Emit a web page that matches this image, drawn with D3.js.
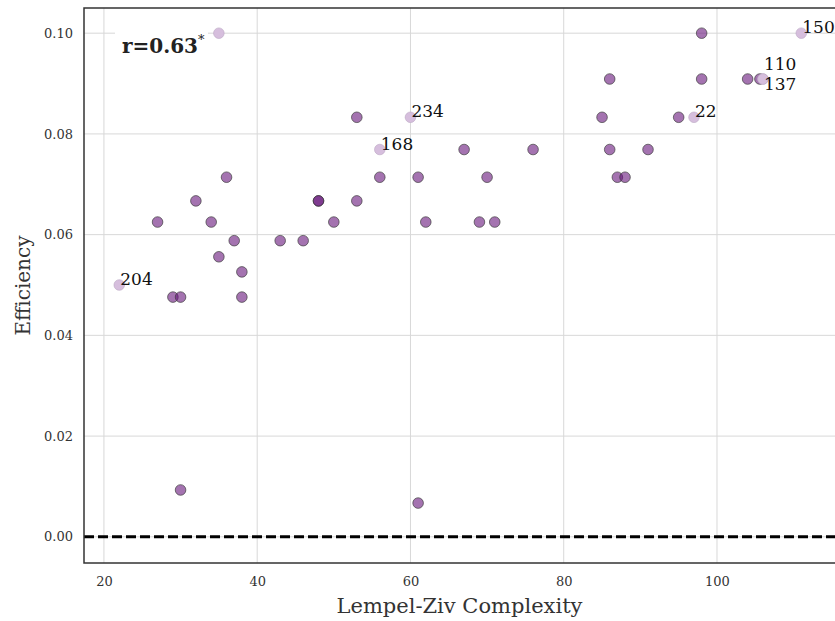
<!DOCTYPE html>
<html>
<head>
<meta charset="utf-8">
<script src="https://cdn.jsdelivr.net/npm/d3@7"></script>
<style>
	body { margin: 0; background: #fff; }
	svg { display: block; font-family: "DejaVu Serif", "Liberation Serif", serif; }
	.grid line { stroke: #d8d8d8; stroke-width: 1; }
	.tick-label { font-size: 13px; fill: #333; }
</style>
</head>
<body>
<div id="canvas"></div>
<script>
/* global d3 */

// Data: Lempel-Ziv complexity vs efficiency
var complexity = [
	27, 32, 34, 36, 37, 35, 38, 38, 29, 30, 22, 30, 35,
	43, 46, 48, 48, 50, 53, 53, 56, 56, 60, 61, 62, 67,
	70, 69, 71, 76, 61, 85, 86, 86, 87, 88, 91, 95, 97,
	98, 98, 104, 105.6, 106, 106, 111
];
var efficiency = [
	0.0625, 0.0667, 0.0625, 0.0714, 0.0588, 0.0556, 0.0526, 0.0476, 0.0476, 0.0476, 0.05, 0.0093, 0.1,
	0.0588, 0.0588, 0.0667, 0.0667, 0.0625, 0.0667, 0.0833, 0.0714, 0.0769, 0.0833, 0.0714, 0.0625, 0.0769,
	0.0714, 0.0625, 0.0625, 0.0769, 0.0067, 0.0833, 0.0909, 0.0769, 0.0714, 0.0714, 0.0769, 0.0833, 0.0833,
	0.1, 0.0909, 0.0909, 0.0909, 0.0909, 0.0909, 0.1
];
// highlighted point ids ('' = normal, '-' = highlighted without visible label)
var pointLabels = [
	'', '', '', '', '', '', '', '', '', '', '204', '', '-',
	'', '', '', '', '', '', '', '', '168', '234', '', '', '',
	'', '', '', '', '', '', '', '', '', '', '', '', '22',
	'', '', '', '', '110', '137', '150'
];
// label vertical nudges (px) so overlapping labels separate
var labelShift = {'110': -9, '137': 11};

var xTicks = [20, 40, 60, 80, 100];
var yTicks = [0.00, 0.02, 0.04, 0.06, 0.08, 0.10];
var corrText = 'r=0.63';

var W = 835, H = 621;
var margin = {top: 8, right: 0, bottom: 58, left: 84};

var svg = d3.select('#canvas').append('svg')
	.attr('width', W)
	.attr('height', H);

var xScale = d3.scaleLinear()
	.domain([17.4, 115.4])
	.range([margin.left, W - margin.right]);
var yScale = d3.scaleLinear()
	.domain([-0.0052, 0.105])
	.range([H - margin.bottom, margin.top]);

// Grid
var gGrid = svg.append('g').attr('class', 'grid');
gGrid.selectAll('.gx').data(xTicks).enter().append('line')
	.attr('x1', function(d) { return xScale(d); })
	.attr('x2', function(d) { return xScale(d); })
	.attr('y1', margin.top)
	.attr('y2', H - margin.bottom);
gGrid.selectAll('.gy').data(yTicks).enter().append('line')
	.attr('x1', margin.left)
	.attr('x2', W - margin.right)
	.attr('y1', function(d) { return yScale(d); })
	.attr('y2', function(d) { return yScale(d); });

// Tick labels
var xAxis = d3.axisBottom(xScale).tickValues(xTicks).tickSize(0).tickPadding(14)
	.tickFormat(d3.format('d'));
var yAxis = d3.axisLeft(yScale).tickValues(yTicks).tickSize(0).tickPadding(11)
	.tickFormat(d3.format('.2f'));
var gx = svg.append('g')
	.attr('transform', 'translate(0,' + (H - margin.bottom) + ')')
	.call(xAxis);
var gy = svg.append('g')
	.attr('transform', 'translate(' + margin.left + ',0)')
	.call(yAxis);
[gx, gy].forEach(function(g) {
	g.select('.domain').remove();
	g.attr('font-family', null).attr('font-size', null);
	g.selectAll('text').attr('class', 'tick-label');
});

// Zero line
svg.append('line')
	.attr('x1', margin.left)
	.attr('x2', W - margin.right)
	.attr('y1', yScale(0))
	.attr('y2', yScale(0))
	.attr('stroke', '#000')
	.attr('stroke-width', 3)
	.attr('stroke-dasharray', '10,4');

// Points
var points = complexity.map(function(c, i) {
	return {x: c, y: efficiency[i], label: pointLabels[i]};
});
var normal = points.filter(function(d) { return !d.label; });
var marked = points.filter(function(d) { return d.label; });

svg.append('g').selectAll('circle').data(normal).enter().append('circle')
	.attr('cx', function(d) { return xScale(d.x); })
	.attr('cy', function(d) { return yScale(d.y); })
	.attr('r', 5.3)
	.attr('fill', 'rgb(104,22,124)')
	.attr('fill-opacity', 0.6)
	.attr('stroke', '#3a3a3a')
	.attr('stroke-opacity', 0.75)
	.attr('stroke-width', 0.9);

svg.append('g').selectAll('circle').data(marked).enter().append('circle')
	.attr('cx', function(d) { return xScale(d.x); })
	.attr('cy', function(d) { return yScale(d.y); })
	.attr('r', 5.3)
	.attr('fill', 'rgb(214,190,221)')
	.attr('stroke', '#bba6c2')
	.attr('stroke-width', 0.6);

svg.append('g').selectAll('text')
	.data(marked.filter(function(d) { return d.label !== '-'; }))
	.enter().append('text')
	.attr('x', function(d) { return xScale(d.x) + 1; })
	.attr('y', function(d) { return yScale(d.y) + (labelShift[d.label] || 0); })
	.attr('font-size', 17)
	.attr('fill', '#111')
	.text(function(d) { return d.label; });

// Correlation annotation with white box
var gCorr = svg.append('g');
var corr = gCorr.append('text')
	.attr('x', xScale(17.4) + 38)
	.attr('y', yScale(0.1) + 20)
	.attr('font-size', 20)
	.attr('font-weight', 'bold')
	.attr('fill', '#222');
corr.append('tspan').text(corrText);
corr.append('tspan')
	.attr('dy', -9)
	.attr('font-size', 13)
	.attr('font-weight', 'normal')
	.text('*');
var bb = corr.node().getBBox();
gCorr.insert('rect', 'text')
	.attr('x', bb.x - 7)
	.attr('y', bb.y - 4)
	.attr('width', bb.width + 10)
	.attr('height', bb.height + 6)
	.attr('fill', '#fff');

// Spines
svg.append('rect')
	.attr('x', margin.left)
	.attr('y', margin.top)
	.attr('width', W - margin.right - margin.left + 2)
	.attr('height', H - margin.bottom - margin.top)
	.attr('fill', 'none')
	.attr('stroke', '#333')
	.attr('stroke-width', 1.5);

// Axis titles
svg.append('text')
	.attr('x', (margin.left + W - margin.right) / 2)
	.attr('y', H - 8)
	.attr('text-anchor', 'middle')
	.attr('font-size', 21)
	.attr('fill', '#333')
	.text('Lempel-Ziv Complexity');
svg.append('text')
	.attr('transform', 'translate(30,' + ((margin.top + H - margin.bottom) / 2) + ') rotate(-90)')
	.attr('text-anchor', 'middle')
	.attr('font-size', 20)
	.attr('fill', '#333')
	.text('Efficiency');
</script>
</body>
</html>
